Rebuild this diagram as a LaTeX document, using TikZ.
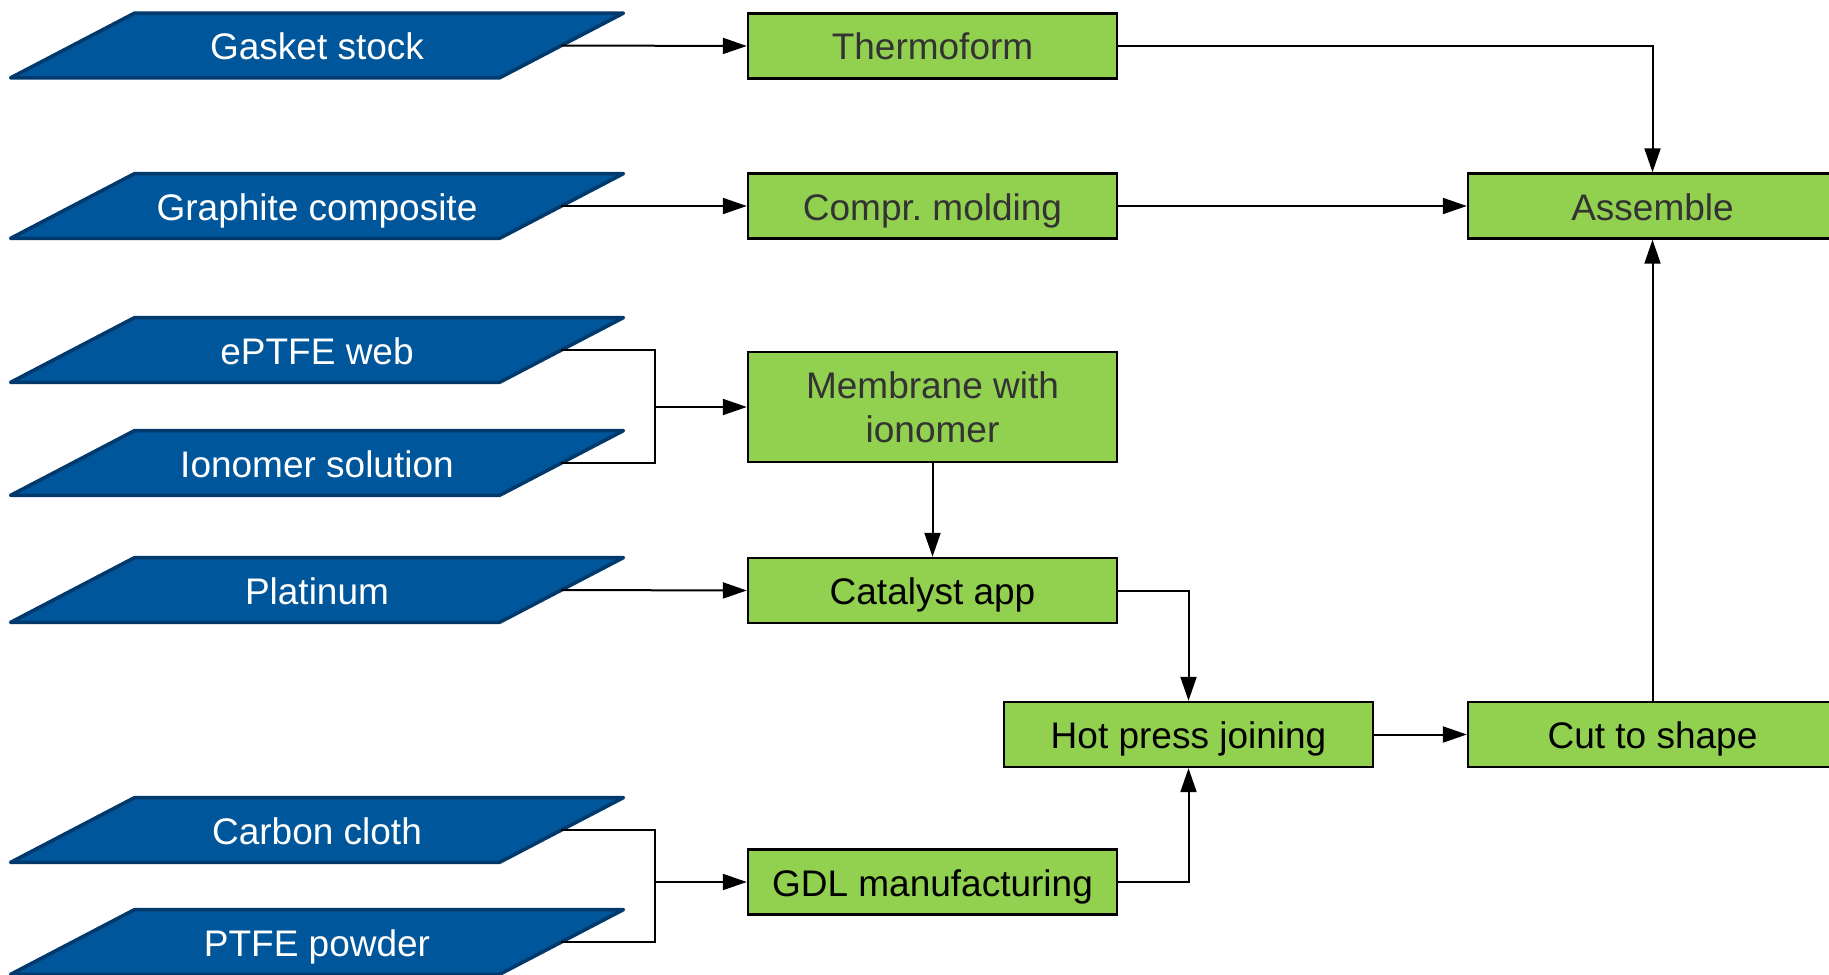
\documentclass[tikz,border=0pt]{standalone}
\usepackage{fontspec}
\setmainfont{Liberation Sans}
\frenchspacing
\usetikzlibrary{arrows.meta,calc,backgrounds}
\definecolor{inblue}{HTML}{00569A}
\definecolor{inborder}{HTML}{003A6C}
\definecolor{procgreen}{HTML}{92D050}
\definecolor{darktext}{HTML}{333333}
\tikzset{
  inp/.style={rectangle, inner sep=0pt, minimum width=244pt, minimum height=32pt,
    text=white, font=\fontsize{18.5}{22}\selectfont, text height=18pt, text depth=4pt},
  para/.style={fill=inblue, draw=inborder, line width=1.8pt, line join=round},
  proc/.style={rectangle, draw=black, fill=procgreen, line width=1.2pt, inner sep=0pt,
    minimum width=184.5pt, minimum height=32.5pt, align=center,
    font=\fontsize{18.5}{22}\selectfont},
  oneline/.style={text height=18pt, text depth=4pt},
  graytxt/.style={text=darktext},
  flow/.style={line width=1pt, -{Triangle[length=12pt,width=8pt]}},
  plain/.style={line width=1pt}
}
\newcommand\drawpara[1]{%
  \draw[para] ($(#1.south west)+(-31pt,0)$) -- ($(#1.north west)+(31pt,0)$) --
    ($(#1.north east)+(31pt,0)$) -- ($(#1.south east)+(-31pt,0)$) -- cycle;}
\begin{document}
\begin{tikzpicture}[x=0.5pt,y=-0.5pt]
\useasboundingbox (0,0) rectangle (1829,974);
% inputs
\node[inp] (gasket) at (317,45.5) {Gasket stock};
\node[inp] (graphite) at (317,206) {Graphite composite};
\node[inp] (eptfe) at (317,350) {ePTFE web};
\node[inp] (ionomer) at (317,463) {Ionomer solution};
\node[inp] (platinum) at (317,590) {Platinum};
\node[inp] (carbon) at (317,830) {Carbon cloth};
\node[inp] (ptfe) at (317,942) {PTFE powder};
% processes
\node[proc,oneline,graytxt] (thermo) at (932.5,46) {Thermoform};
\node[proc,oneline,graytxt] (compr) at (932.5,206) {Compr. molding};
\node[proc,graytxt,minimum height=55pt] (membrane) at (932.5,407) {Membrane with\\ionomer};
\node[proc,oneline] (catalyst) at (932.5,590.5) {Catalyst app};
\node[proc,oneline] (gdl) at (932.5,882) {GDL manufacturing};
\node[proc,oneline] (hot) at (1188.5,734.5) {Hot press joining};
\node[proc,oneline] (cut) at (1652.5,734.5) {Cut to shape};
\node[proc,oneline,graytxt] (assemble) at (1652.5,206) {Assemble};
% junctions
\coordinate (j1) at (655,407);
\coordinate (j2) at (655,882);
% connectors
\draw[flow] (gasket.east) -- (thermo.west);
\draw[flow] (graphite.east) -- (compr.west);
\draw[plain] (eptfe.east) -| (j1);
\draw[plain] (ionomer.east) -| (j1);
\draw[flow] (j1) -- (membrane.west);
\draw[flow] (membrane.south) -- (catalyst.north);
\draw[flow] (platinum.east) -- (catalyst.west);
\draw[plain] (carbon.east) -| (j2);
\draw[plain] (ptfe.east) -| (j2);
\draw[flow] (j2) -- (gdl.west);
\draw[flow] (catalyst.east) -| (hot.north);
\draw[flow] (gdl.east) -| (hot.south);
\draw[flow] (hot.east) -- (cut.west);
\draw[flow] (cut.north) -- (assemble.south);
\draw[flow] (compr.east) -- (assemble.west);
\draw[flow] (thermo.east) -| (assemble.north);
\begin{pgfonlayer}{background}
\fill[white] (0,0) rectangle (1829,974);
\drawpara{gasket}
\drawpara{graphite}
\drawpara{eptfe}
\drawpara{ionomer}
\drawpara{platinum}
\drawpara{carbon}
\drawpara{ptfe}
\end{pgfonlayer}
\end{tikzpicture}
\end{document}
